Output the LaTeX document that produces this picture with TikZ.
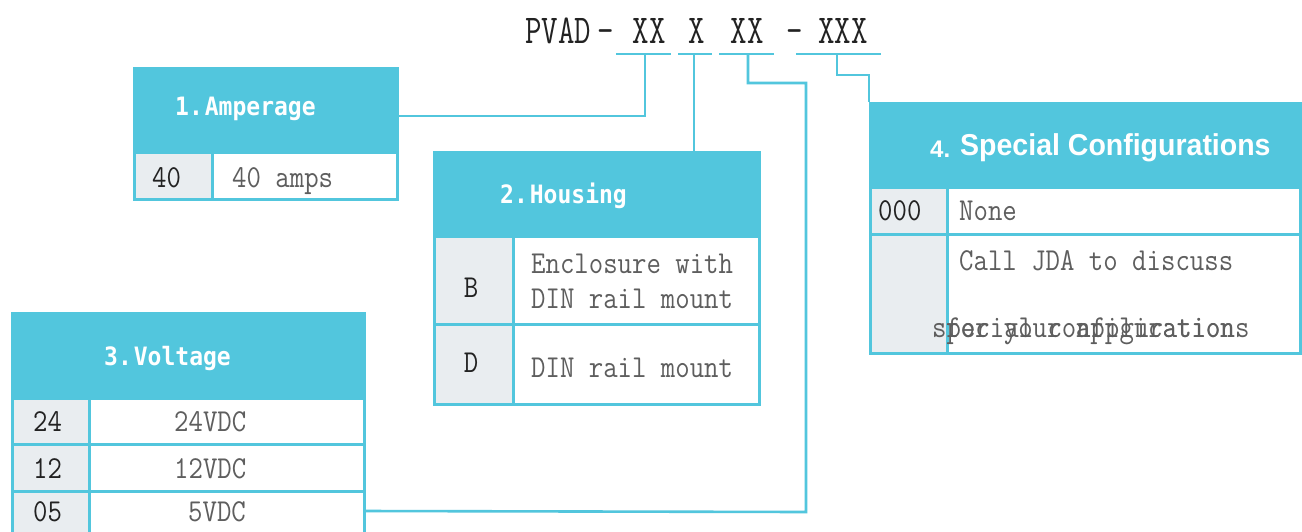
\documentclass[tikz,border=0pt]{standalone}
\usepackage{graphicx}
\usepackage{fontspec}
\setmainfont{Liberation Serif}
\newfontfamily\hdrf{DejaVu Sans Mono}
\newfontfamily\hsansf{Liberation Sans}
\definecolor{cy}{HTML}{52C6DD}
\definecolor{lg}{HTML}{E9EDF0}
\definecolor{tg}{HTML}{5E5E5E}
\definecolor{tk}{HTML}{222222}
\newcommand\tall[1]{\scalebox{1}[1.14]{#1}}
\newcommand\htall[1]{\scalebox{1}[1.1]{#1}}
\tikzset{
  ln/.style={draw=cy, line width=2.6pt},
  hd/.style={fill=cy, draw=cy, line width=2.6pt, anchor=north west, inner sep=0},
  codecell/.style={fill=lg, draw=cy, line width=2.6pt, anchor=north west, inner sep=0},
  desccell/.style={fill=white, draw=cy, line width=2.6pt, anchor=north west, inner sep=0},
  codetxt/.style={inner sep=0, anchor=base west, text=tk, font=\ttfamily\fontsize{28}{28}\selectfont},
  desctxt/.style={inner sep=0, anchor=base west, text=tg, font=\ttfamily\fontsize{28}{28}\selectfont},
  hdtxt/.style={inner sep=0, anchor=base west, text=white, font=\hdrf\bfseries\fontsize{23}{23}\selectfont},
  titletxt/.style={inner sep=0, anchor=base, text=tk, font=\ttfamily\fontsize{32}{32}\selectfont},
}
\begin{document}
\begin{tikzpicture}[x=1pt,y=-1pt]
\useasboundingbox (0,0) rectangle (1302,531);
\fill[white] (0,0) rectangle (1302,531);

% title
\node[titletxt, anchor=base west] (pvad) at (525,43) {\scalebox{1}[1.28]{PVAD}};
\node[titletxt] (d1) at (606,43) {\scalebox{1}[1.28]{-}};
\node[titletxt] (p1) at (649,43) {\scalebox{1}[1.28]{XX}};
\node[titletxt] (p2) at (697,43) {\scalebox{1}[1.28]{X}};
\node[titletxt] (p3) at (747,43) {\scalebox{1}[1.28]{XX}};
\node[titletxt] (d2) at (795,43) {\scalebox{1}[1.28]{-}};
\node[titletxt] (p4) at (843,43) {\scalebox{1}[1.28]{XXX}};

% underlines
\coordinate (u1a) at (616,54); \coordinate (u1b) at (671,54);
\coordinate (u2a) at (678,54); \coordinate (u2b) at (712,54);
\coordinate (u3a) at (719,54); \coordinate (u3b) at (774,54);
\coordinate (u4a) at (796,54); \coordinate (u4b) at (881,54);
\draw[ln] (u1a) -- (u1b);
\draw[ln] (u2a) -- (u2b);
\draw[ln] (u3a) -- (u3b);
\draw[ln] (u4a) -- (u4b);

% Box 1 Amperage
\node[hd, minimum width=263, minimum height=84] (h1) at (133,67) {};
\node[codecell, minimum width=78, minimum height=47] (c1a) at (133,151) {};
\node[desccell, minimum width=185, minimum height=47] (d1a) at (211,151) {};
\node[hdtxt] (t1) at (175,115) {\htall{1.\kern2pt Amperage}};
\node[codetxt] (k1a) at (152,187) {\tall{40}};
\node[desctxt] (e1a) at (232,187) {\tall{40 amps}};

% Box 2 Housing
\node[hd, minimum width=325, minimum height=84] (h2) at (433,151) {};
\node[codecell, minimum width=79, minimum height=88] (c2a) at (433,235) {};
\node[desccell, minimum width=246, minimum height=88] (d2a) at (512,235) {};
\node[codecell, minimum width=79, minimum height=80] (c2b) at (433,323) {};
\node[desccell, minimum width=246, minimum height=80] (d2b) at (512,323) {};
\node[hdtxt] (t2) at (500,203) {\htall{2.\kern2pt Housing}};
\node[codetxt, anchor=base] (k2a) at (471,297) {\tall{B}};
\node[desctxt] (e2a) at (531,273) {\tall{Enclosure with}};
\node[desctxt] (e2b) at (531,308) {\tall{DIN rail mount}};
\node[codetxt, anchor=base] (k2b) at (471,372) {\tall{D}};
\node[desctxt] (e2c) at (531,377) {\tall{DIN rail mount}};

% Box 3 Voltage
\node[hd, minimum width=352, minimum height=85] (h3) at (11,312) {};
\node[codecell, minimum width=77, minimum height=46] (c3a) at (11,397) {};
\node[desccell, minimum width=275, minimum height=46] (d3a) at (88,397) {};
\node[codecell, minimum width=77, minimum height=47] (c3b) at (11,443) {};
\node[desccell, minimum width=275, minimum height=47] (d3b) at (88,443) {};
\node[codecell, minimum width=77, minimum height=60] (c3c) at (11,490) {};
\node[desccell, minimum width=275, minimum height=60] (d3c) at (88,490) {};
\node[hdtxt] (t3) at (104,365) {\htall{3.\kern2pt Voltage}};
\node[codetxt] (k3a) at (33,431) {\tall{24}};
\node[desctxt] (e3a) at (174,431) {\tall{24VDC}};
\node[codetxt] (k3b) at (33,478) {\tall{12}};
\node[desctxt] (e3b) at (174,478) {\tall{12VDC}};
\node[codetxt] (k3c) at (33,521) {\tall{05}};
\node[desctxt] (e3c) at (188,521) {\tall{5VDC}};

% Box 4 Special Configurations
\node[hd, minimum width=430, minimum height=84] (h4) at (869,102) {};
\node[codecell, minimum width=77, minimum height=47] (c4a) at (869,186) {};
\node[desccell, minimum width=353, minimum height=47] (d4a) at (946,186) {};
\node[codecell, minimum width=77, minimum height=119] (c4b) at (869,233) {};
\node[desccell, minimum width=353, minimum height=119] (d4b) at (946,233) {};
\node[inner sep=0, anchor=base west, text=white, font=\hsansf\bfseries\fontsize{28.5}{28.5}\selectfont] (t4) at (930,155) {\raisebox{-2pt}{\fontsize{24}{24}\selectfont 4.}\hspace{10pt}\scalebox{1}[1.06]{Special Configurations}};
\node[codetxt] (k4a) at (878,220) {\tall{000}};
\node[desctxt] (e4a) at (959,220) {\tall{None}};
\node[desctxt] (e4b) at (959,270) {\tall{Call JDA to discuss}};
\node[desctxt] (e4c) at (932,337) {\tall{special configurations}};
\node[desctxt] (e4d) at (946,337) {\tall{for your application}};

% connectors
\coordinate (j1) at (396,116);
\coordinate (j3) at (363,511);
\draw[ln] (j1) -- (645,116) -- (645,54);
\draw[ln] (694,54) -- (h2.north -| 694,0);
\draw[ln] (748,54) -- (748,83) -- (806,83) -- (806,512) -- (j3);
\draw[ln] (837,54) -- (837,75) -- (869,75) -- (h4.north west);
\end{tikzpicture}
\end{document}
